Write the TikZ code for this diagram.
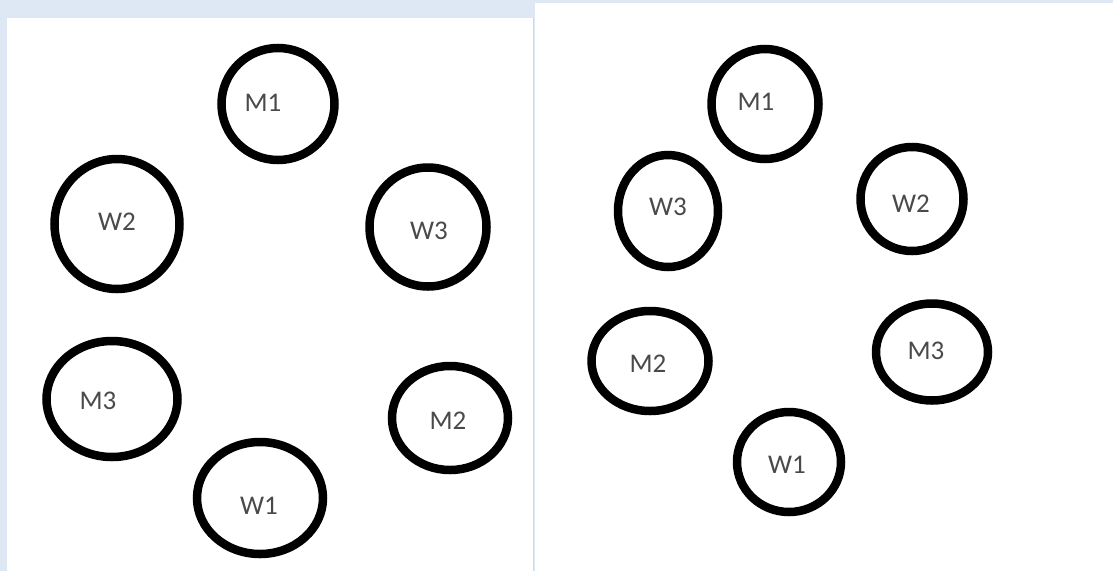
\documentclass[tikz,border=0pt]{standalone}
\usepackage{fontspec}
\setmainfont{Carlito}
\usetikzlibrary{shapes.geometric}
\definecolor{bgBlue}{HTML}{DDE8F4}
\definecolor{edgeBlue}{HTML}{C9DAEC}
\definecolor{tagGray}{HTML}{4A4A4A}
\begin{document}
\begin{tikzpicture}[x=1pt, y=-1pt,
  ring/.style={ellipse, draw=black, line width=8.5pt, inner sep=0pt},
  tag/.style={text=tagGray, font=\fontsize{27}{27}\selectfont, inner sep=0pt}]
% 背景与两块白色面板
\fill[bgBlue] (0,0) rectangle (1113,571);
\useasboundingbox (0,0) rectangle (1113,571);
\fill[white] (7,18) rectangle (533,571);
\draw[edgeBlue, line width=1pt] (533.5,18) -- (533.5,571);
\fill[white] (535,3) rectangle (1113,571);
% 左图：六个圆
\node[ring, minimum width=113pt, minimum height=112pt] (lM1) at (278,104) {};
\node[ring, minimum width=125pt, minimum height=130pt] (lW2) at (117,224) {};
\node[ring, minimum width=117pt, minimum height=119pt] (lW3) at (428,227) {};
\node[ring, minimum width=131pt, minimum height=116pt] (lM3) at (112,399) {};
\node[ring, minimum width=116pt, minimum height=104pt] (lM2) at (450,418) {};
\node[ring, minimum width=126pt, minimum height=112pt] (lW1) at (260,498) {};
\node[tag] (lM1t) at (263,103) {M1};
\node[tag] (lW2t) at (117,222) {W2};
\node[tag] (lW3t) at (429,231) {W3};
\node[tag] (lM3t) at (98,401) {M3};
\node[tag] (lM2t) at (448,421) {M2};
\node[tag] (lW1t) at (259,506) {W1};
% 右图：六个圆
\node[ring, minimum width=107pt, minimum height=110pt] (rM1) at (765,104) {};
\node[ring, minimum width=100pt, minimum height=112pt] (rW3) at (668,211) {};
\node[ring, minimum width=103pt, minimum height=104pt] (rW2) at (912,199) {};
\node[ring, minimum width=117pt, minimum height=100pt] (rM2) at (650,361) {};
\node[ring, minimum width=112pt, minimum height=97pt] (rM3) at (932,352) {};
\node[ring, minimum width=104pt, minimum height=100pt] (rW1) at (789,462) {};
\node[tag] (rM1t) at (756,102) {M1};
\node[tag] (rW3t) at (668,207) {W3};
\node[tag] (rW2t) at (911,204) {W2};
\node[tag] (rM2t) at (648,364) {M2};
\node[tag] (rM3t) at (926,351) {M3};
\node[tag] (rW1t) at (787,465) {W1};
\end{tikzpicture}
\end{document}
